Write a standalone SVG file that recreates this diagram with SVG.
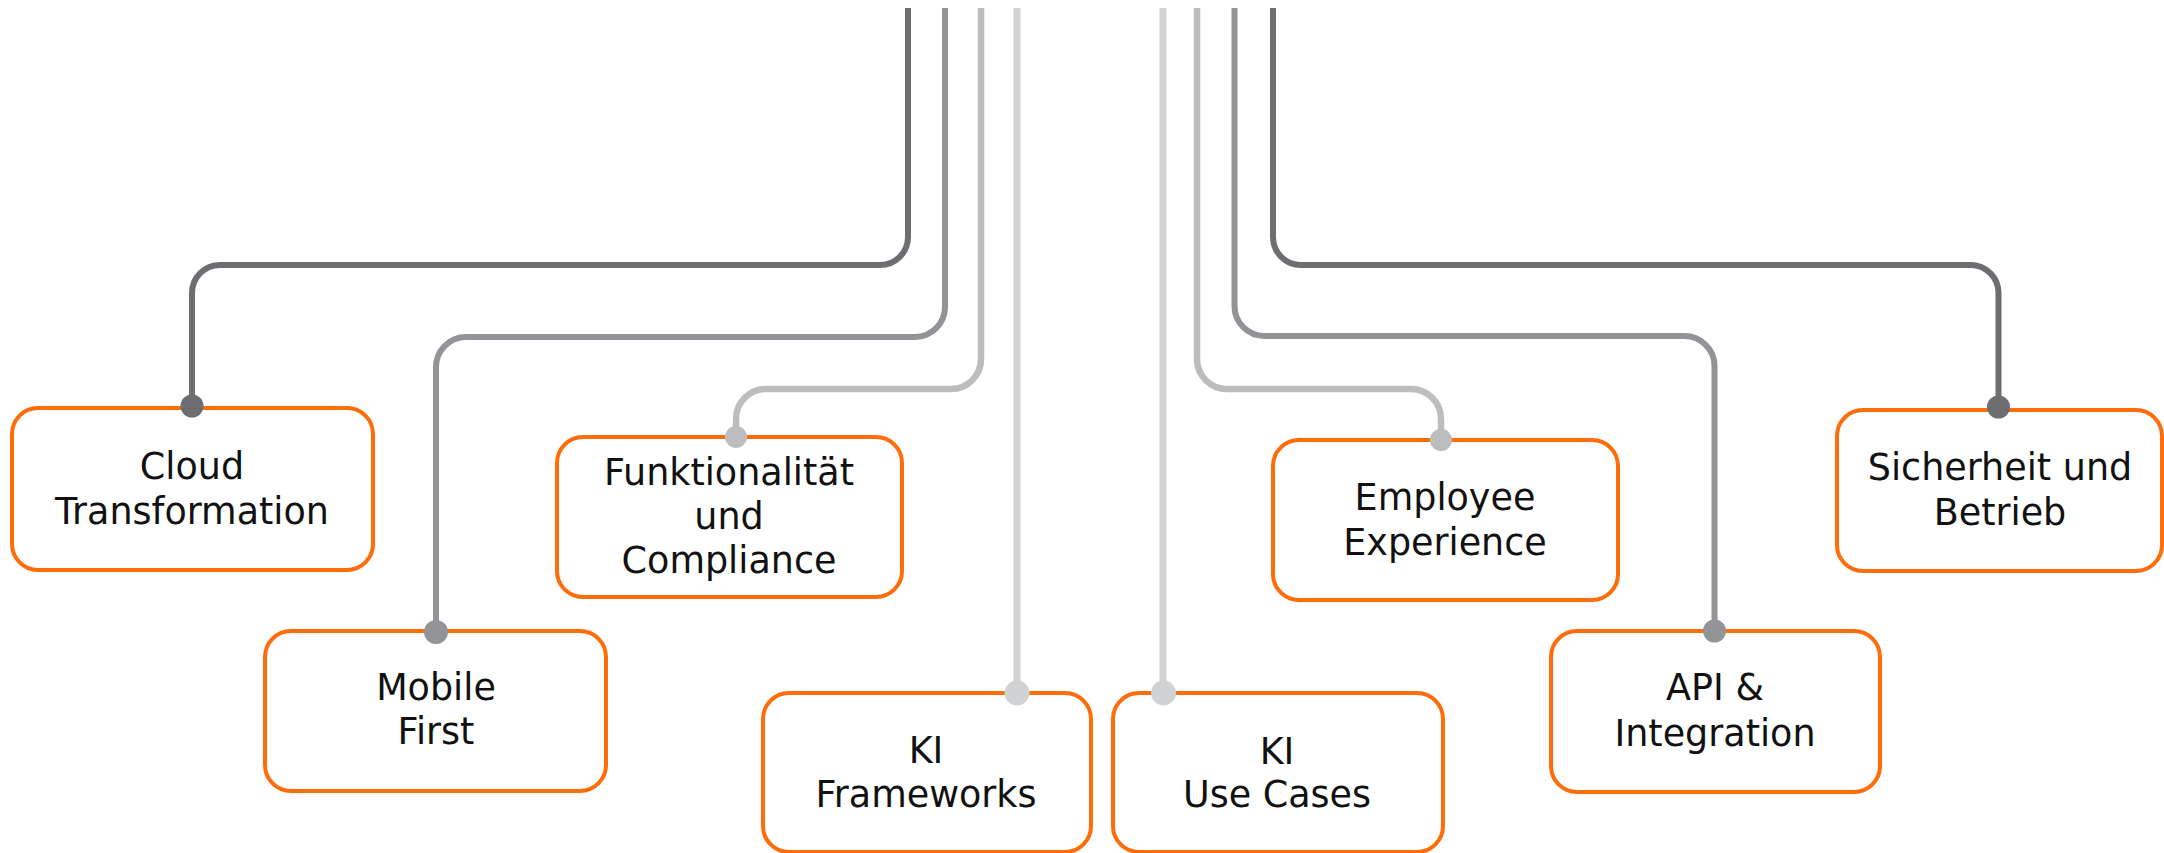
<svg xmlns="http://www.w3.org/2000/svg" width="2164" height="853" viewBox="0 0 2164 853">
<style>
.box{fill:#ffffff;stroke:#ff6c0a;stroke-width:4}
.lbl{font-family:"DejaVu Sans","Liberation Sans",sans-serif;font-size:36.5px;fill:#111111;text-anchor:middle}
.c{fill:none;stroke-linecap:butt;stroke-linejoin:round}
.dark{stroke:#6d6e72;stroke-width:6}
.mid{stroke:#939498;stroke-width:6}
.lmid{stroke:#bcbdbf;stroke-width:6.5}
.light{stroke:#d1d2d4;stroke-width:7}
</style>
<rect width="2164" height="853" fill="#ffffff"/>
<g id="node-cloud">
<rect class="box" x="12" y="408" width="361" height="162" rx="26"/>
<text class="lbl" x="192" y="479">Cloud</text>
<text class="lbl" x="192" y="524">Transformation</text>
</g>
<g id="node-mobile">
<rect class="box" x="265" y="631" width="341" height="160" rx="26"/>
<text class="lbl" x="436" y="700">Mobile</text>
<text class="lbl" x="436" y="744">First</text>
</g>
<g id="node-funktionalitaet">
<rect class="box" x="557" y="437" width="345" height="160" rx="26"/>
<text class="lbl" x="729" y="485">Funktionalität</text>
<text class="lbl" x="729" y="529">und</text>
<text class="lbl" x="729" y="573">Compliance</text>
</g>
<g id="node-ki-frameworks">
<rect class="box" x="763" y="693" width="328" height="159" rx="26"/>
<text class="lbl" x="926" y="763">KI</text>
<text class="lbl" x="926" y="807">Frameworks</text>
</g>
<g id="node-ki-usecases">
<rect class="box" x="1113" y="693" width="330" height="159" rx="26"/>
<text class="lbl" x="1277" y="764">KI</text>
<text class="lbl" x="1277" y="807">Use Cases</text>
</g>
<g id="node-employee">
<rect class="box" x="1273" y="440" width="345" height="160" rx="26"/>
<text class="lbl" x="1445" y="510">Employee</text>
<text class="lbl" x="1445" y="555">Experience</text>
</g>
<g id="node-api">
<rect class="box" x="1551" y="631" width="329" height="161" rx="26"/>
<text class="lbl" x="1715" y="700">API &amp;</text>
<text class="lbl" x="1715" y="745.5">Integration</text>
</g>
<g id="node-sicherheit">
<rect class="box" x="1837" y="410" width="325" height="161" rx="26"/>
<text class="lbl" x="2000" y="480">Sicherheit und</text>
<text class="lbl" x="2000" y="525">Betrieb</text>
</g>
<g id="connectors">
<path class="c dark" d="M908 8 V237 A28 28 0 0 1 880 265 H220 A28 28 0 0 0 192 293 V406"/>
<path class="c mid" d="M945 8 V307 A30 30 0 0 1 915 337 H466 A30 30 0 0 0 436 367 V632"/>
<path class="c lmid" d="M981 8 V359 A30 30 0 0 1 951 389 H766 A30 30 0 0 0 736 419 V437"/>
<path class="c light" d="M1017 8 V693"/>
<path class="c light" d="M1163 8 V693"/>
<path class="c lmid" d="M1197 8 V359 A30 30 0 0 0 1227 389 H1411 A30 30 0 0 1 1441 419 V440"/>
<path class="c mid" d="M1234.5 8 V306 A30 30 0 0 0 1264.5 336 H1684.5 A30 30 0 0 1 1714.5 366 V631"/>
<path class="c dark" d="M1273 8 V237 A28 28 0 0 0 1301 265 H1970.5 A28 28 0 0 1 1998.5 293 V407"/>
<circle cx="192" cy="406" r="11.5" fill="#6d6e72"/>
<circle cx="436" cy="632" r="12" fill="#939498"/>
<circle cx="736" cy="437" r="11" fill="#bcbdbf"/>
<circle cx="1017" cy="693" r="12.5" fill="#d1d2d4"/>
<circle cx="1163.5" cy="693" r="12.5" fill="#d1d2d4"/>
<circle cx="1441" cy="440" r="11" fill="#bcbdbf"/>
<circle cx="1714.5" cy="631" r="11.5" fill="#939498"/>
<circle cx="1998.5" cy="407" r="11.5" fill="#6d6e72"/>
</g>
</svg>
